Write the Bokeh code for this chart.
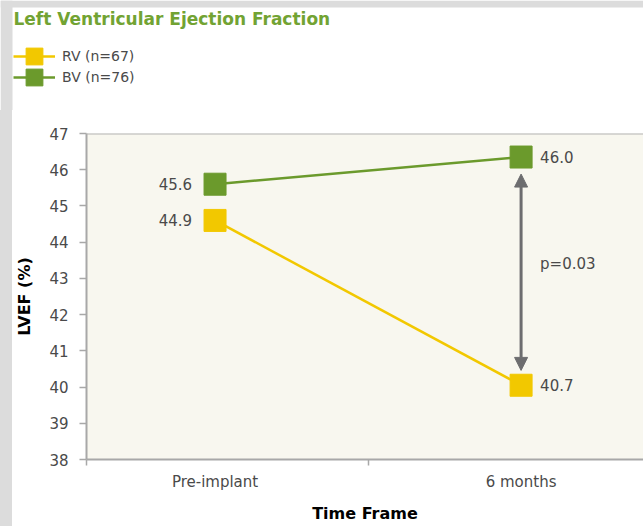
from bokeh.plotting import figure
from bokeh.layouts import column, row
from bokeh.models import (Range1d, FixedTicker, Span, Arrow, NormalHead, Label,
                          Legend, LegendItem, ColumnDataSource, BoxAnnotation, Spacer)
from bokeh.core.properties import value
from bokeh.embed import file_html
from bokeh.resources import INLINE

# ---------------- data ----------------
TITLE = "Left Ventricular Ejection Fraction"
categories = ["Pre-implant", "6 months"]
rv_name = "RV (n=67)"
bv_name = "BV (n=76)"
# marker heights as drawn in the picture
rv_plotted = [44.6, 40.05]
bv_plotted = [45.6, 46.35]
# value labels printed next to the markers
rv_labels = ["44.9", "40.7"]
bv_labels = ["45.6", "46.0"]
y_ticks = [38, 39, 40, 41, 42, 43, 44, 45, 46, 47]
p_text = "p=0.03"
x_title = "Time Frame"
y_title = "LVEF (%)"

# ---------------- style ----------------
FONT = "DejaVu Sans"
YELLOW = "#f2c800"
GREEN = "#6b9a2c"
TITLE_GREEN = "#72a333"
TEXT = "#4a4a4a"
AXIS = "#a8a8a8"
ARROW = "#6d6d6f"
STRIP = "#dcdcdc"

X_START, X_END = -0.42, 1.4
Y_START, Y_END = 38, 47
ARROW_BOTTOM, ARROW_TOP = 40.46, 45.88
P_Y = 43.4

W = 643
TOP_H = 110
STRIP_W = 12
MAIN_W, MAIN_H = W - STRIP_W, 526 - TOP_H
ML, MT, MB = 72, 23, 67

cat_x = list(range(len(categories)))
NAN = float("nan")

# ================= header: title + legend =================
top = figure(width=W, height=TOP_H, output_backend="svg", toolbar_location=None,
             x_range=Range1d(0, W), y_range=Range1d(TOP_H, 0),
             x_axis_type=None, y_axis_type=None, min_border=0)
top.outline_line_color = None
top.grid.visible = False
top.background_fill_color = "white"
top.border_fill_color = "white"
top.add_layout(BoxAnnotation(left=0, right=W, top=0, bottom=7, fill_color=STRIP,
                             fill_alpha=1, line_color=None))
top.add_layout(BoxAnnotation(left=0, right=STRIP_W, top=0, bottom=TOP_H, fill_color=STRIP,
                             fill_alpha=1, line_color=None))
top.add_layout(Label(x=13, y=18.5, text=TITLE, text_font=FONT, text_font_style="bold",
                     text_font_size="17px", text_color=TITLE_GREEN, text_baseline="middle"))

# legend swatches (no visible data in the header; they only feed the legend)
leg_rv_line = top.line(x=[NAN], y=[NAN], line_color=YELLOW, line_width=2.5)
leg_rv_sc = top.scatter(x=[NAN], y=[NAN], marker="square", fill_color=YELLOW, line_color=YELLOW)
leg_bv_line = top.line(x=[NAN], y=[NAN], line_color=GREEN, line_width=2.5)
leg_bv_sc = top.scatter(x=[NAN], y=[NAN], marker="square", fill_color=GREEN, line_color=GREEN)

LEG_STYLE = dict(orientation="vertical", glyph_width=42, glyph_height=44, label_height=44,
                 padding=0, margin=0, border_line_color=None, background_fill_alpha=0,
                 label_standoff=7, label_text_font=FONT, label_text_font_size="14px",
                 label_text_color=TEXT)
legend_rv = Legend(items=[LegendItem(label=rv_name, renderers=[leg_rv_line, leg_rv_sc])],
                   location=(13, TOP_H - 78), **LEG_STYLE)
legend_bv = Legend(items=[LegendItem(label=bv_name, renderers=[leg_bv_line, leg_bv_sc])],
                   location=(13, TOP_H - 99), **LEG_STYLE)
top.add_layout(legend_rv)
top.add_layout(legend_bv)

# ================= main chart =================
p = figure(width=MAIN_W, height=MAIN_H, output_backend="svg", toolbar_location=None,
           x_range=Range1d(X_START, X_END), y_range=Range1d(Y_START, Y_END),
           min_border_left=ML, min_border_right=0, min_border_top=MT,
           min_border_bottom=MB)
p.outline_line_color = None
p.background_fill_color = "#f8f7ef"
p.border_fill_color = "white"
p.grid.visible = False

# top border of the plot area
p.add_layout(Span(location=Y_END, dimension="width", line_color="#b4b4b4", line_width=2))

# series
p.line(cat_x, bv_plotted, line_color=GREEN, line_width=2.5)
p.scatter(cat_x, bv_plotted, marker="square", size=22, fill_color=GREEN, line_color=GREEN)
p.line(cat_x, rv_plotted, line_color=YELLOW, line_width=2.5)
p.scatter(cat_x, rv_plotted, marker="square", size=22, fill_color=YELLOW, line_color=YELLOW)

# value labels
left_src = ColumnDataSource(dict(x=[cat_x[0], cat_x[0]], y=[rv_plotted[0], bv_plotted[0]],
                                 t=[rv_labels[0], bv_labels[0]]))
right_src = ColumnDataSource(dict(x=[cat_x[1], cat_x[1]], y=[rv_plotted[1], bv_plotted[1]],
                                  t=[rv_labels[1], bv_labels[1]]))
p.text(x="x", y="y", text="t", source=left_src, text_align="right", text_baseline="middle",
       x_offset=-23, text_font=value(FONT), text_font_size="15px", text_color=TEXT)
p.text(x="x", y="y", text="t", source=right_src, text_align="left", text_baseline="middle",
       x_offset=19, text_font=value(FONT), text_font_size="15px", text_color=TEXT)

# significance arrow
p.add_layout(Arrow(start=NormalHead(size=13, fill_color=ARROW, line_color=ARROW),
                   end=NormalHead(size=13, fill_color=ARROW, line_color=ARROW),
                   x_start=cat_x[1], y_start=ARROW_BOTTOM, x_end=cat_x[1], y_end=ARROW_TOP,
                   line_color=ARROW, line_width=3))
p.add_layout(Label(x=cat_x[1], y=P_Y, text=p_text, x_offset=19, text_baseline="middle",
                   text_font=FONT, text_font_size="15px", text_color=TEXT))

# x axis
xa = p.xaxis[0]
xa.ticker = FixedTicker(ticks=cat_x, minor_ticks=[X_START, 0.5])
xa.major_label_overrides = {i: c for i, c in zip(cat_x, categories)}
xa.major_tick_line_color = None
xa.major_tick_in = 0
xa.major_tick_out = 0
xa.minor_tick_in = 0
xa.minor_tick_out = 6
xa.minor_tick_line_color = AXIS
xa.minor_tick_line_width = 1.5
xa.major_label_standoff = 7
xa.major_label_text_font = FONT
xa.major_label_text_font_size = "15px"
xa.major_label_text_color = TEXT
xa.axis_line_color = AXIS
xa.axis_line_width = 2
xa.axis_label = x_title
xa.axis_label_standoff = 10
xa.axis_label_text_font = FONT
xa.axis_label_text_font_size = "16px"
xa.axis_label_text_font_style = "bold"
xa.axis_label_text_color = "black"

# y axis
ya = p.yaxis[0]
ya.ticker = FixedTicker(ticks=y_ticks)
ya.minor_tick_line_color = None
ya.major_tick_in = 0
ya.major_tick_out = 7
ya.major_tick_line_color = AXIS
ya.major_tick_line_width = 1.5
ya.major_label_standoff = 11
ya.major_label_text_font = FONT
ya.major_label_text_font_size = "15px"
ya.major_label_text_color = TEXT
ya.axis_line_color = AXIS
ya.axis_line_width = 2
ya.axis_label = y_title
ya.axis_label_standoff = 12
ya.axis_label_text_font = FONT
ya.axis_label_text_font_size = "16px"
ya.axis_label_text_font_style = "bold"
ya.axis_label_text_color = "black"

strip = Spacer(width=STRIP_W, height=MAIN_H, styles={"background-color": STRIP})
layout = column(top, row(strip, p, spacing=0), spacing=0)

open("out.html", "w").write(file_html(layout, INLINE))
